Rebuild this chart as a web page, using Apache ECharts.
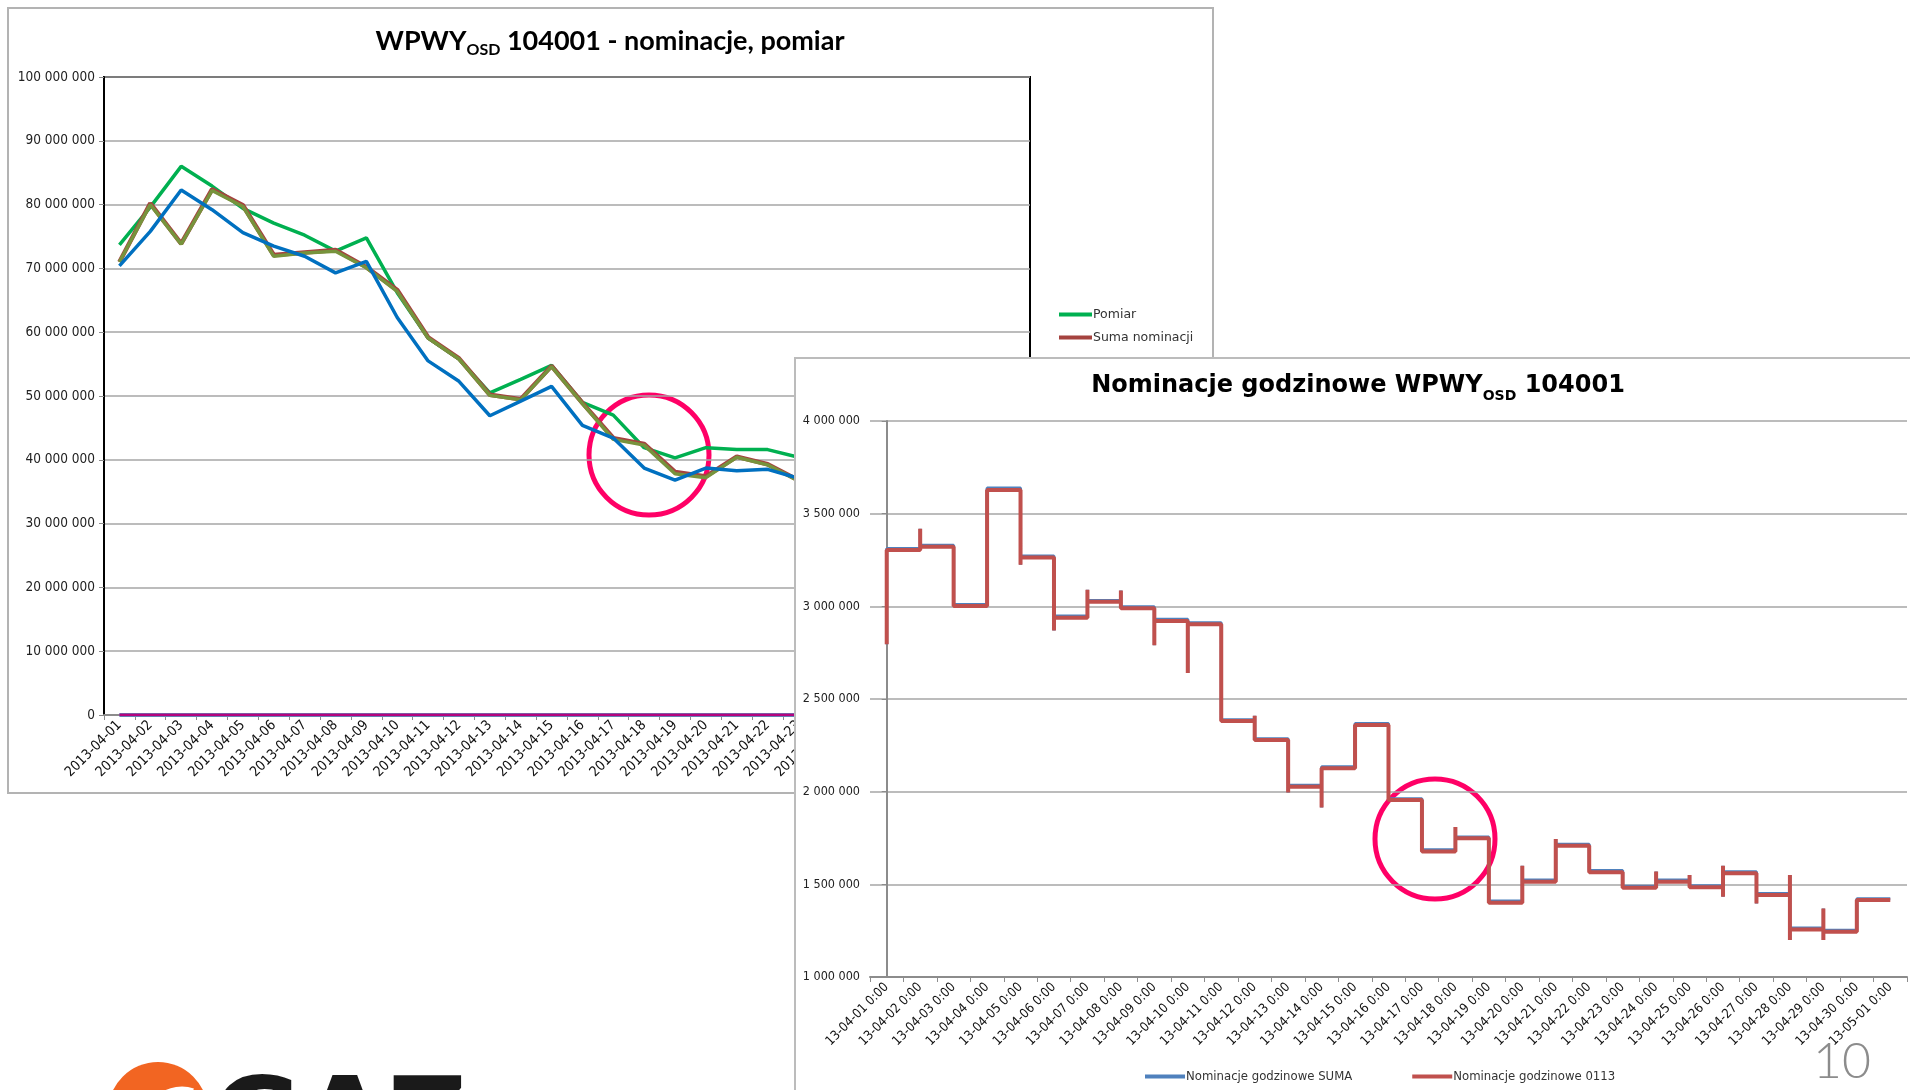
<!DOCTYPE html>
<html>
<head>
<meta charset="utf-8">
<title>WPWY OSD 104001</title>
<script src="https://cdn.jsdelivr.net/npm/echarts@6/dist/echarts.min.js"></script>
<style>
    html, body { margin: 0; padding: 0; background: #fff; overflow: hidden; }
    #container { position: absolute; left: 0; top: 0; width: 1910px; height: 1090px; }
    #container01 { position: absolute; left: 794px; top: 357px; width: 1130px; height: 740px;
        background: #fff; border-left: 2px solid #bcbcbc; border-top: 2px solid #bcbcbc; }
</style>
</head>
<body>
<div id="container"></div>
<div id="container01"></div>
<script>
// 日别数据 - WPWY OSD 104001
var days = ['2013-04-01', '2013-04-02', '2013-04-03', '2013-04-04', '2013-04-05', '2013-04-06',
    '2013-04-07', '2013-04-08', '2013-04-09', '2013-04-10', '2013-04-11', '2013-04-12',
    '2013-04-13', '2013-04-14', '2013-04-15', '2013-04-16', '2013-04-17', '2013-04-18',
    '2013-04-19', '2013-04-20', '2013-04-21', '2013-04-22', '2013-04-23', '2013-04-24',
    '2013-04-25', '2013-04-26', '2013-04-27', '2013-04-28', '2013-04-29', '2013-04-30'];
var pomiar = [73700000, 79600000, 86000000, 82900000, 79400000, 77100000, 75200000, 72700000,
    74800000, 66200000, 59100000, 55800000, 50500000, 52600000, 54800000, 49000000, 47000000,
    41900000, 40300000, 41900000, 41600000, 41600000, 40400000];
var sumaNominacji = [71000000, 80200000, 73900000, 82400000, 79900000, 72100000, 72500000, 72900000,
    70200000, 66600000, 59200000, 55900000, 50200000, 49500000, 54700000, 48900000, 43400000,
    42500000, 38100000, 37400000, 40500000, 39300000, 36800000];
var nominacje0113 = [71000000, 80000000, 73800000, 82200000, 79700000, 71900000, 72400000, 72700000,
    70100000, 66400000, 59100000, 55800000, 50100000, 49400000, 54600000, 48800000, 43200000,
    42300000, 37800000, 37200000, 40400000, 39200000, 36700000];
var nominacjeSuma = [70400000, 75800000, 82300000, 79200000, 75600000, 73500000, 71900000, 69300000,
    71100000, 62300000, 55500000, 52300000, 46900000, 49200000, 51500000, 45400000, 43400000,
    38700000, 36800000, 38700000, 38300000, 38500000, 37100000];
var korektaA = [0, 0, 0, 0, 0, 0, 0, 0, 0, 0, 0, 0, 0, 0, 0, 0, 0, 0, 0, 0, 0, 0, 0, 0, 0, 0, 0, 0, 0, 0];
var korektaB = [0, 0, 0, 0, 0, 0, 0, 0, 0, 0, 0, 0, 0, 0, 0, 0, 0, 0, 0, 0, 0, 0, 0, 0, 0, 0, 0, 0, 0, 0];

// 小时数据 - 每日水平 + 日初的尖峰
var hourLabels = ['13-04-01 0:00', '13-04-02 0:00', '13-04-03 0:00', '13-04-04 0:00', '13-04-05 0:00',
    '13-04-06 0:00', '13-04-07 0:00', '13-04-08 0:00', '13-04-09 0:00', '13-04-10 0:00',
    '13-04-11 0:00', '13-04-12 0:00', '13-04-13 0:00', '13-04-14 0:00', '13-04-15 0:00',
    '13-04-16 0:00', '13-04-17 0:00', '13-04-18 0:00', '13-04-19 0:00', '13-04-20 0:00',
    '13-04-21 0:00', '13-04-22 0:00', '13-04-23 0:00', '13-04-24 0:00', '13-04-25 0:00',
    '13-04-26 0:00', '13-04-27 0:00', '13-04-28 0:00', '13-04-29 0:00', '13-04-30 0:00',
    '13-05-01 0:00'];
var dayLevel0113 = [3304000, 3322000, 3002000, 3628000, 3263000, 2939000, 3025000, 2989000, 2921000,
    2903000, 2381000, 2279000, 2027000, 2126000, 2360000, 1955000, 1677000, 1748000, 1400000,
    1514000, 1708000, 1565000, 1482000, 1514000, 1484000, 1560000, 1442000, 1256000, 1244000, 1415000];
var dayLevelSuma = [3312000, 3330000, 3010000, 3638000, 3272000, 2948000, 3032000, 2998000, 2930000,
    2912000, 2388000, 2286000, 2035000, 2134000, 2368000, 1962000, 1686000, 1755000, 1410000,
    1523000, 1716000, 1574000, 1490000, 1523000, 1493000, 1568000, 1450000, 1264000, 1252000, 1422000];
var firstHour = [2795000, 3419000, null, null, 3225000, 2870000, 3090000, 3085000, 2790000, 2640000,
    null, 2410000, 1995000, 1915000, null, null, null, 1810000, null, 1600000, 1745000, null, null,
    1569000, 1551000, 1433000, 1397000, 1550000, 1370000, null];
var secondHour = [null, null, null, null, null, null, null, null, null, null, null, null, null, null,
    null, null, null, null, null, null, null, null, null, null, null, 1600000, null, 1200000, 1200000, null];

var narrow = '"Liberation Sans Narrow", "DejaVu Sans Condensed", sans-serif';

function spaced(v) {
    return String(v).replace(/\B(?=(\d{3})+(?!\d))/g, ' ');
}

function buildSteps(level) {
    var pts = [];
    for (var i = 0; i < level.length; i++) {
        if (firstHour[i] != null) pts.push([i, firstHour[i]]);
        if (secondHour[i] != null) pts.push([i, secondHour[i]]);
        pts.push([i, level[i]]);
        pts.push([i + 1, level[i]]);
    }
    return pts;
}

function lineSeries(name, data, color, width) {
    return {
        name: name,
        type: 'line',
        data: data,
        showSymbol: false,
        symbol: 'none',
        lineStyle: { color: color, width: width },
        itemStyle: { color: color },
        emphasis: { disabled: true }
    };
}

/*
 * 日图表 - nominacje, pomiar
 * */
var myChart = echarts.init(document.getElementById('container'));
var option = {
    animation: false,
    grid: {
        left: 104, top: 77, right: 880, bottom: 375,
        show: true, borderColor: '#000', borderWidth: 2,
        containLabel: false, outerBoundsMode: 'none'
    },
    legend: {
        orient: 'vertical',
        left: 1054, top: 303,
        itemGap: 10,
        itemWidth: 33, itemHeight: 4,
        icon: 'rect',
        data: ['Pomiar', 'Suma nominacji'],
        textStyle: { fontFamily: '"DejaVu Sans", sans-serif', fontSize: 12.5, color: '#333', padding: [0, 0, 0, -4] }
    },
    xAxis: {
        type: 'category',
        data: days,
        boundaryGap: true,
        axisLine: { lineStyle: { color: '#8c8c8c', width: 2 } },
        axisTick: { show: true, interval: 0, length: 5, lineStyle: { color: '#8c8c8c' } },
        axisLabel: { interval: 0, rotate: 45, fontFamily: narrow, fontSize: 14, color: '#111', margin: 8 }
    },
    yAxis: {
        type: 'value',
        min: 0, max: 100000000, interval: 10000000,
        axisLine: { show: true, lineStyle: { color: '#000', width: 2 } },
        axisTick: { show: true, length: 5, lineStyle: { color: '#8c8c8c' } },
        axisLabel: { fontFamily: narrow, fontSize: 13.5, color: '#222', margin: 9, formatter: spaced },
        splitLine: { lineStyle: { color: '#a6a6a6', width: 1.5 } }
    },
    series: [
        lineSeries('Korekta B', korektaB, '#4BACC6', 4),
        lineSeries('Korekta A', korektaA, '#B4047F', 3),
        lineSeries('Pomiar', pomiar, '#00B050', 3.5),
        lineSeries('Suma nominacji', sumaNominacji, '#A5433F', 4.5),
        lineSeries('Nominacje 0113', nominacje0113, '#77933C', 3.5),
        lineSeries('Nominacje SUMA', nominacjeSuma, '#0070C0', 3.5)
    ],
    graphic: [
        {
            type: 'rect', z: -1, silent: true,
            shape: { x: 8, y: 8, width: 1205, height: 785 },
            style: { fill: 'none', stroke: '#b3b3b3', lineWidth: 2 }
        },
        {
            type: 'text', silent: true,
            style: {
                x: 610, y: 41, align: 'center', verticalAlign: 'middle',
                text: '{t|WPWY}{s|OSD}{t| 104001 - nominacje, pomiar}',
                rich: {
                    t: { fontFamily: 'Lato, sans-serif', fontWeight: 'bold', fontSize: 27, lineHeight: 34, fill: '#000' },
                    s: { fontFamily: 'Lato, sans-serif', fontWeight: 'bold', fontSize: 16, lineHeight: 12, verticalAlign: 'bottom', fill: '#000' }
                }
            }
        },
        {
            type: 'circle', silent: true,
            shape: { cx: 649, cy: 455, r: 60 },
            style: { fill: 'none', stroke: '#FF0066', lineWidth: 5 }
        },
        {
            type: 'circle', silent: true,
            shape: { cx: 158, cy: 1112, r: 50 },
            style: { fill: '#F26522' }
        },
        {
            type: 'arc', silent: true,
            shape: { cx: 182, cy: 1125, r: 34, startAngle: Math.PI * 0.95, endAngle: Math.PI * 1.6 },
            style: { fill: 'none', stroke: '#fff', lineWidth: 9 }
        },
        {
            type: 'text', silent: true,
            style: {
                x: 212, y: 1072, text: 'GAZ',
                fontFamily: '"DejaVu Sans", sans-serif', fontWeight: 'bold', fontSize: 110, fill: '#1a1a1a'
            }
        }
    ]
};
myChart.setOption(option);

/*
 * 小时图表 - Nominacje godzinowe
 * */
var myChart1 = echarts.init(document.getElementById('container01'));
var option1 = {
    animation: false,
    grid: {
        left: 74, top: 62, width: 1037, height: 556,
        containLabel: false, outerBoundsMode: 'none'
    },
    legend: {
        left: 344, top: 706,
        itemGap: 60,
        itemWidth: 40, itemHeight: 4,
        icon: 'rect',
        data: ['Nominacje godzinowe SUMA', 'Nominacje godzinowe 0113'],
        textStyle: { fontFamily: narrow, fontSize: 13, color: '#333', padding: [0, 0, 0, -4] }
    },
    xAxis: [
        {
            type: 'category',
            data: hourLabels,
            boundaryGap: true,
            axisLine: { lineStyle: { color: '#8c8c8c', width: 2 } },
            axisTick: { show: true, interval: 0, length: 5, lineStyle: { color: '#8c8c8c' } },
            axisLabel: { interval: 0, rotate: 45, fontFamily: narrow, fontSize: 13, color: '#111', margin: 8 }
        },
        {
            type: 'value', show: false,
            min: -0.5, max: 30.5
        }
    ],
    yAxis: {
        type: 'value',
        min: 1000000, max: 4000000, interval: 500000,
        axisLine: { show: true, lineStyle: { color: '#8c8c8c', width: 2 } },
        axisTick: { show: true, length: 5, lineStyle: { color: '#8c8c8c' } },
        axisLabel: { fontFamily: narrow, fontSize: 12.5, color: '#222', margin: 10, formatter: spaced },
        splitLine: { lineStyle: { color: '#a6a6a6', width: 1.5 } }
    },
    series: [
        Object.assign(lineSeries('Nominacje godzinowe SUMA', buildSteps(dayLevelSuma), '#4F81BD', 3), { xAxisIndex: 1 }),
        Object.assign(lineSeries('Nominacje godzinowe 0113', buildSteps(dayLevel0113), '#C0504D', 4), { xAxisIndex: 1 })
    ],
    graphic: [
        {
            type: 'text', silent: true,
            style: {
                x: 562, y: 27, align: 'center', verticalAlign: 'middle',
                text: '{t|Nominacje godzinowe WPWY}{s|OSD}{t| 104001}',
                rich: {
                    t: { fontFamily: '"DejaVu Sans", sans-serif', fontWeight: 'bold', fontSize: 24, lineHeight: 34, fill: '#000' },
                    s: { fontFamily: '"DejaVu Sans", sans-serif', fontWeight: 'bold', fontSize: 14, lineHeight: 12, verticalAlign: 'bottom', fill: '#000' }
                }
            }
        },
        {
            type: 'circle', silent: true,
            shape: { cx: 639, cy: 480, r: 60 },
            style: { fill: 'none', stroke: '#FF0066', lineWidth: 5 }
        },
        {
            type: 'text', silent: true,
            style: {
                x: 1046, y: 703, align: 'center', verticalAlign: 'middle',
                text: '10', fontFamily: 'Lato, sans-serif', fontWeight: 300, fontSize: 50, fill: '#8c8c8c'
            }
        }
    ]
};
myChart1.setOption(option1);
</script>
</body>
</html>
